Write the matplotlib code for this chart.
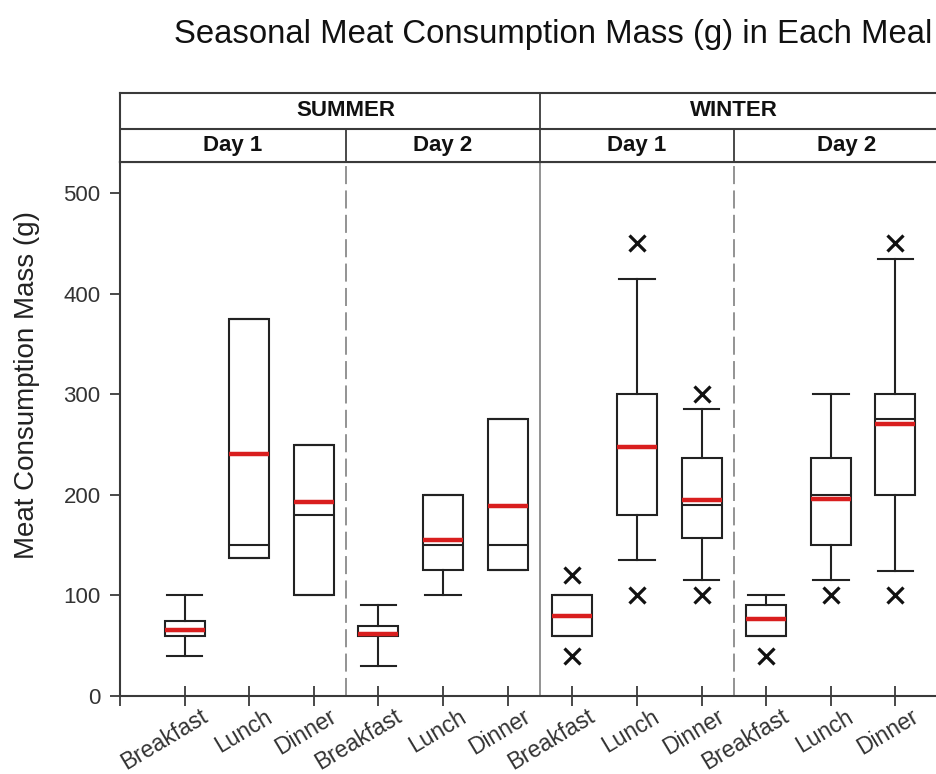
import matplotlib
matplotlib.use("Agg")
import matplotlib.pyplot as plt
from matplotlib.transforms import ScaledTranslation

plt.rcParams['font.family'] = ['Liberation Sans', 'DejaVu Sans']

seasons = ["SUMMER", "WINTER"]
days = ["Day 1", "Day 2"]
meals = ["Breakfast", "Lunch", "Dinner"]

# one entry per box: summer d1, summer d2, winter d1, winter d2 (B, L, D each)
q1 = [60, 137, 100, 60, 125, 125, 60, 180, 157, 60, 150, 200]
q3 = [75, 375, 250, 70, 200, 275, 100, 300, 237, 90, 237, 300]
med = [65, 150, 180, 62, 150, 150, 80, 248, 190, 77, 200, 275]
mean = [66, 241, 193, 62, 155, 189, 80, 248, 195, 77, 196, 270]
whislo = [40, 137, 100, 30, 100, 125, 60, 135, 115, 60, 115, 124]
whishi = [100, 375, 250, 90, 200, 275, 100, 415, 285, 100, 300, 435]
fliers = [[], [], [], [], [], [], [40, 120], [100, 450], [100, 300],
          [40], [100], [100, 450]]

W, H = 936, 774
fig = plt.figure(figsize=(W / 100, H / 100), dpi=100)
ax = fig.add_axes([120 / W, 78 / H, 840 / W, 534 / H])
hx = fig.add_axes([120 / W, 612 / H, 840 / W, 69 / H])

frame = '#3a3a3a'
sep = '#8a8a8a'

n = len(q1)
pos = list(range(1, n + 1))
stats = []
for i in range(n):
    stats.append(dict(med=med[i], q1=q1[i], q3=q3[i], whislo=whislo[i],
                      whishi=whishi[i], fliers=fliers[i], mean=mean[i]))

ax.axvline(6.5, color=sep, lw=1.3, zorder=1)
for xs in (3.5, 9.5):
    ax.axvline(xs, color=sep, lw=1.3, ls=(0, (10, 3.5)), zorder=1)

ax.bxp(stats, positions=pos, widths=0.62, capwidths=0.55,
       showmeans=True, meanline=True, patch_artist=True,
       boxprops=dict(facecolor='white', edgecolor='#222222', linewidth=1.5),
       medianprops=dict(color='#222222', linewidth=1.5),
       whiskerprops=dict(color='#222222', linewidth=1.5),
       capprops=dict(color='#222222', linewidth=1.5),
       meanprops=dict(color='#d91e1e', linewidth=3.2, linestyle='-'),
       flierprops=dict(marker='x', markeredgecolor='#111111',
                       markersize=11, markeredgewidth=2.3))

ax.set_xlim(0, 13)
ax.set_ylim(0, 531)
ax.set_yticks([0, 100, 200, 300, 400, 500])
ax.set_xticks([0] + pos, [''] + meals * 4)
ax.tick_params(axis='y', direction='out', length=7, width=1.3,
               labelsize=16, labelcolor='#333333', color=frame, pad=7)
ax.tick_params(axis='x', direction='inout', length=15, width=1.3,
               labelsize=16.5, labelcolor='#333333', color=frame, pad=-1)
off = ScaledTranslation(0.15, 0, fig.dpi_scale_trans)
for lbl in ax.get_xticklabels():
    lbl.set_rotation(31)
    lbl.set_ha('right')
    lbl.set_va('top')
    lbl.set_rotation_mode('anchor')
    lbl.set_transform(lbl.get_transform() + off)
for s in ('left', 'bottom', 'top'):
    ax.spines[s].set_color(frame)
    ax.spines[s].set_linewidth(1.5)
ax.spines['right'].set_visible(False)

# header strip with season and day labels
hx.set_xlim(0, 13)
hx.set_ylim(0, 1)
hx.set_xticks([])
hx.set_yticks([])
for s in hx.spines.values():
    s.set_color(frame)
    s.set_linewidth(1.5)
hx.spines['right'].set_visible(False)
hx.axhline(0.478, color=frame, lw=1.5)
hx.axvline(6.5, color=frame, lw=1.3)
for xs in (3.5, 9.5):
    hx.plot([xs, xs], [0, 0.478], color=frame, lw=1.3)
for xs, s in zip((3.5, 9.5), seasons):
    hx.text(xs, 0.74, s, ha='center', va='center', fontsize=16,
            fontweight='bold', color='#111111')
day_centers = [1.75, 5.0, 8.0, 11.25]
for k, xc in enumerate(day_centers):
    hx.text(xc, 0.24, days[k % 2], ha='center', va='center', fontsize=16,
            fontweight='bold', color='#111111')

fig.text(174 / W, 1 - 43 / H, "Seasonal Meat Consumption Mass (g) in Each Meal",
         fontsize=23.7, ha='left', va='baseline', color='#111111')
fig.text(27 / W, 1 - 385 / H, "Meat Consumption Mass (g)", fontsize=20,
         rotation=90, ha='center', va='center', color='#222222')

fig.savefig("out.png", dpi=100)
